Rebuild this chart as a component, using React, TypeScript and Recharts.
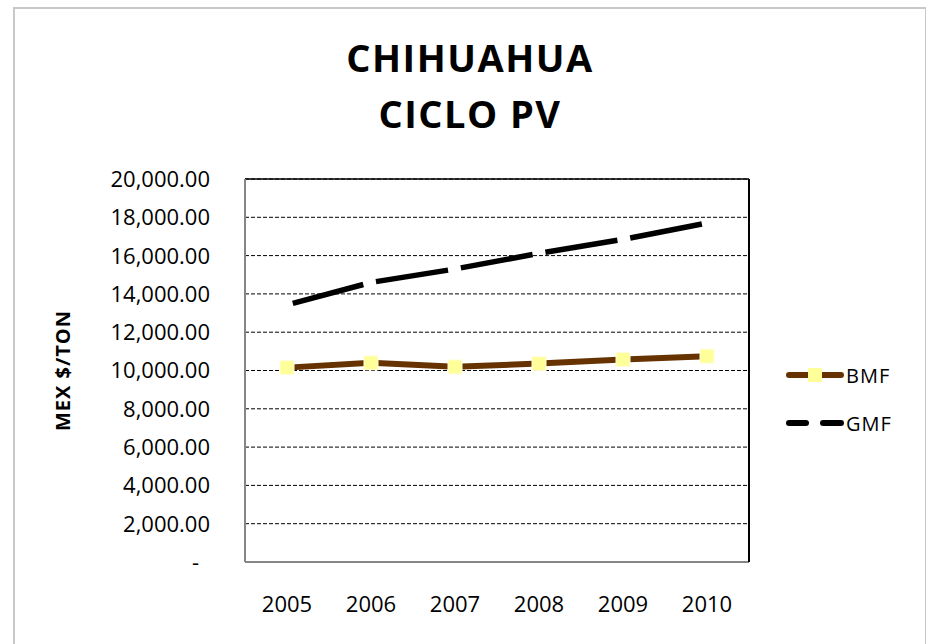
import React from "react";
import {
  LineChart,
  Line,
  XAxis,
  YAxis,
  CartesianGrid,
  Legend,
  Label,
} from "recharts";

const years = ["2005", "2006", "2007", "2008", "2009", "2010"];
const bmf = [10150, 10400, 10190, 10360, 10580, 10750];
const gmf = [13420, 14600, 15300, 16120, 16850, 17700];
const yTicks = [0, 2000, 4000, 6000, 8000, 10000, 12000, 14000, 16000, 18000, 20000];

const data = years.map((year, i) => ({ year, BMF: bmf[i], GMF: gmf[i] }));

const FONT = "'Open Sans', sans-serif";
const BROWN = "#663300";
const MARKER = "#FFFF99";

const fmt = (v: number) =>
  v === 0
    ? "-"
    : v.toLocaleString("en-US", { minimumFractionDigits: 2, maximumFractionDigits: 2 });

function YTick({ x, y, payload }: any) {
  const isZero = payload.value === 0;
  return (
    <text
      x={isZero ? x - 11 : x}
      y={y}
      dy="0.36em"
      textAnchor="end"
      fontFamily={FONT}
      fontSize={22}
      fill="#000"
    >
      {fmt(payload.value)}
    </text>
  );
}

function XTick({ x, y, payload }: any) {
  return (
    <text x={x} y={y} dy="0.72em" textAnchor="middle" fontFamily={FONT} fontSize={22} fill="#000">
      {payload.value}
    </text>
  );
}

function SquareDot({ cx, cy }: any) {
  if (cx == null || cy == null) return null;
  return (
    <rect
      x={cx - 7}
      y={cy - 7}
      width={14}
      height={14}
      fill={MARKER}
      stroke="#fffde0"
      strokeWidth={1}
    />
  );
}

function LegendIcon({ name }: { name: string }) {
  if (name === "BMF") {
    return (
      <svg width={58} height={16}>
        <line x1={3} y1={8} x2={55} y2={8} stroke={BROWN} strokeWidth={6} strokeLinecap="round" />
        <rect x={22} y={1} width={14} height={14} fill={MARKER} />
      </svg>
    );
  }
  return (
    <svg width={58} height={16}>
      <line x1={3} y1={8} x2={20} y2={8} stroke="#000" strokeWidth={6} strokeLinecap="round" />
      <line x1={37} y1={8} x2={55} y2={8} stroke="#000" strokeWidth={6} strokeLinecap="round" />
    </svg>
  );
}

function LegendBox({ payload }: any) {
  return (
    <div>
      {(payload || []).map((p: any) => (
        <div
          key={p.value}
          style={{ display: "flex", alignItems: "center", height: 48, fontFamily: FONT, fontSize: 20, letterSpacing: 1 }}
        >
          <LegendIcon name={p.value} />
          <span style={{ marginLeft: 2 }}>{p.value}</span>
        </div>
      ))}
    </div>
  );
}

export default function App() {
  return (
    <div
      style={{
        position: "fixed",
        left: 0,
        top: 0,
        width: 926,
        height: 644,
        overflow: "hidden",
        background: "#fff",
      }}
    >
      <div
        style={{
          position: "absolute",
          left: 13,
          top: 7,
          width: 910,
          height: 660,
          border: "2px solid #c8c8c8",
        }}
      />
      <div
        style={{
          position: "absolute",
          left: 0,
          top: 29,
          width: 940,
          textAlign: "center",
          fontFamily: FONT,
          fontWeight: 700,
          fontSize: 38,
          lineHeight: "56px",
          letterSpacing: 1.5,
        }}
      >
        CHIHUAHUA
        <br />
        CICLO PV
      </div>
      <div style={{ position: "absolute", left: 0, top: 0 }}>
        <LineChart
          width={926}
          height={644}
          data={data}
          margin={{ top: 178, right: 176, bottom: 0, left: 0 }}
        >
          <CartesianGrid vertical={false} stroke="#000" strokeDasharray="4 2" />
          <XAxis
            dataKey="year"
            padding={{ left: 42, right: 42 }}
            axisLine={{ stroke: "#868686", strokeWidth: 2 }}
            tickLine={false}
            tick={<XTick />}
            tickMargin={28}
            height={82}
            interval={0}
          />
          <XAxis
            xAxisId="top"
            dataKey="year"
            orientation="top"
            padding={{ left: 42, right: 42 }}
            axisLine={{ stroke: "#000", strokeWidth: 1.5 }}
            tick={false}
            tickLine={false}
            height={1}
          />
          <YAxis
            domain={[0, 20000]}
            ticks={yTicks}
            interval={0}
            width={245}
            axisLine={{ stroke: "#868686", strokeWidth: 2 }}
            tickLine={false}
            tickMargin={29}
            tick={<YTick />}
          >
            <Label
              content={({ viewBox }: any) => {
                const cx = viewBox.x + 62;
                const cy = viewBox.y + viewBox.height / 2;
                return (
                  <text
                    x={cx}
                    y={cy}
                    transform={`rotate(-90 ${cx} ${cy})`}
                    textAnchor="middle"
                    dominantBaseline="central"
                    fontFamily={FONT}
                    fontWeight={700}
                    fontSize={20}
                    letterSpacing={1}
                    fill="#000"
                  >
                    MEX $/TON
                  </text>
                );
              }}
            />
          </YAxis>
          <YAxis
            yAxisId="right"
            orientation="right"
            domain={[0, 20000]}
            ticks={yTicks}
            type="number"
            width={1}
            tick={false}
            tickLine={false}
            axisLine={{ stroke: "#000", strokeWidth: 2 }}
          />
          <Legend
            layout="vertical"
            verticalAlign="middle"
            align="center"
            content={<LegendBox />}
            wrapperStyle={{ left: 786, top: 351, width: 130 }}
          />
          <Line
            dataKey="BMF"
            xAxisId="top"
            stroke={BROWN}
            strokeWidth={6}
            dot={<SquareDot />}
            activeDot={false}
            isAnimationActive={false}
          />
          <Line
            dataKey="GMF"
            yAxisId="right"
            stroke="#000"
            strokeWidth={5.5}
            strokeDasharray="73 13"
            strokeDashoffset={80}
            dot={false}
            activeDot={false}
            isAnimationActive={false}
          />
        </LineChart>
      </div>
    </div>
  );
}
